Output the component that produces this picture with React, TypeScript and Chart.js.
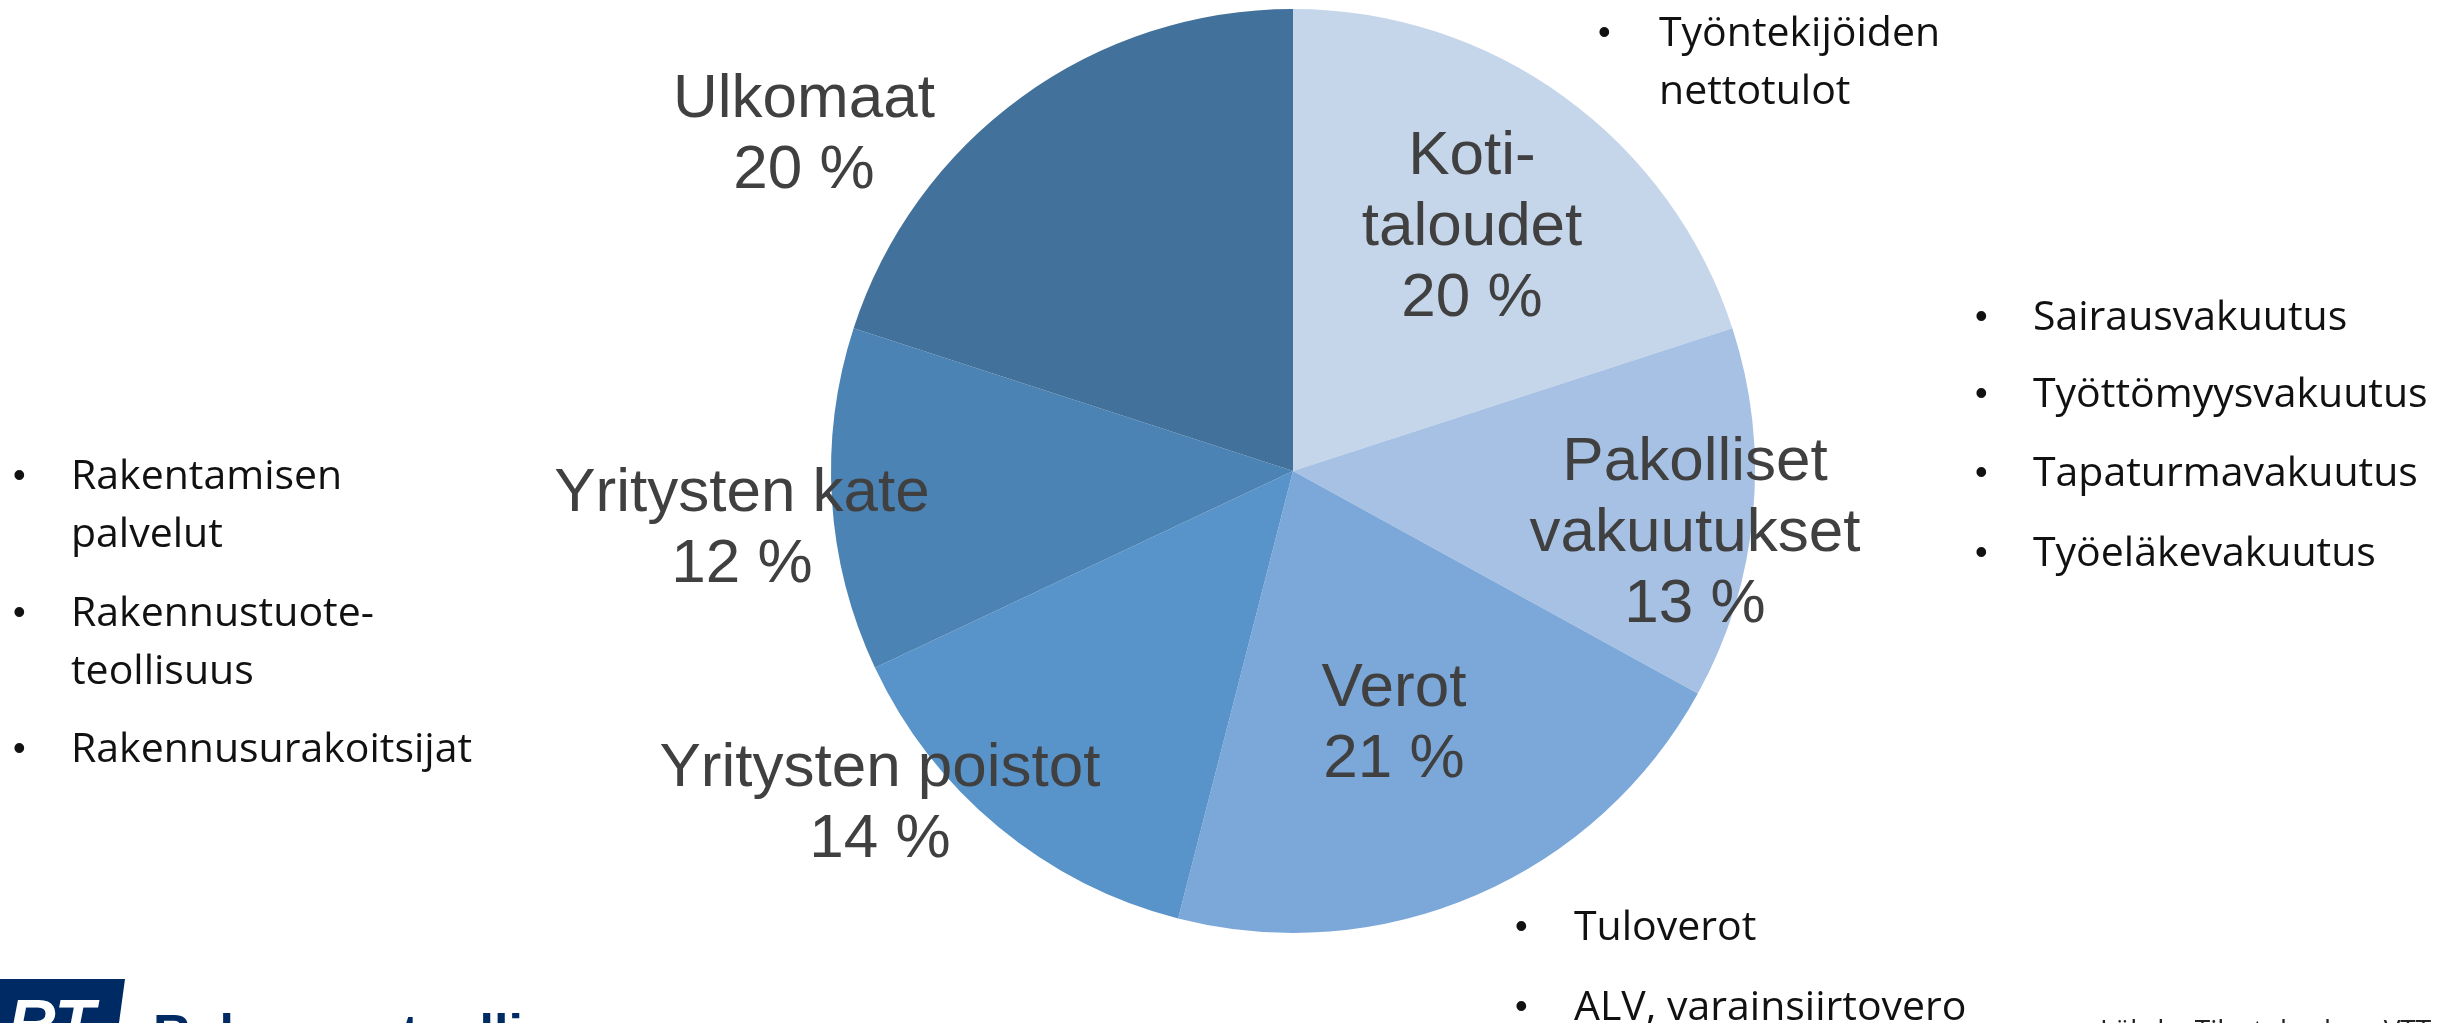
import React, { useEffect, useRef } from "react";
import { Chart, registerables } from "chart.js";

Chart.register(...registerables);

// ---- data ----
const categories = ["Kotitaloudet", "Pakolliset vakuutukset", "Verot", "Yritysten poistot", "Yritysten kate", "Ulkomaat"];
const shares = [20, 13, 21, 14, 12, 20];
const sliceColors = ["#C5D5EA", "#A6C1E3", "#7CA8D9", "#5894CA", "#4B83B4", "#42719B"];
const sliceLabelLines = [
  ["Koti-", "taloudet"],
  ["Pakolliset", "vakuutukset"],
  ["Verot"],
  ["Yritysten poistot"],
  ["Yritysten kate"],
  ["Ulkomaat"],
];
const bulletTop = ["Työntekijöiden\nnettotulot"];
const bulletRight = ["Sairausvakuutus", "Työttömyysvakuutus", "Tapaturmavakuutus", "Työeläkevakuutus"];
const bulletLeft = ["Rakentamisen\npalvelut", "Rakennustuote-\nteollisuus", "Rakennusurakoitsijat"];
const bulletBottom = ["Tuloverot", "ALV, varainsiirtovero"];
const sourceText = "Lähde: Tilastokeskus, VTT";
const logoText = "Rakennusteollisuus";

// ---- layout (positions of text blocks) ----
const W = 2461;
const H = 1023;
const labelPos = [
  { x: 1472, y: 157 },
  { x: 1695, y: 463 },
  { x: 1394, y: 689 },
  { x: 880, y: 769 },
  { x: 742, y: 494 },
  { x: 804, y: 100 },
];
const labelLineH = 71;
const bulletFont = "41px 'Open Sans', sans-serif";
const bulletWrapH = 58;

type Block = { items: string[]; bx: number; tx: number; ys: number[] };
const bulletBlocks: Block[] = [
  { items: bulletTop, bx: 1604, tx: 1659, ys: [34] },
  { items: bulletRight, bx: 1981, tx: 2033, ys: [318, 395, 474, 554] },
  { items: bulletLeft, bx: 19, tx: 71, ys: [477, 614, 750] },
  { items: bulletBottom, bx: 1521, tx: 1574, ys: [928, 1008] },
];

const textPlugin = {
  id: "texts",
  afterDraw(chart: any) {
    const ctx = chart.ctx as CanvasRenderingContext2D;
    ctx.save();
    // slice labels
    ctx.fillStyle = "#404040";
    ctx.font = "62px 'Liberation Sans', Arial, sans-serif";
    ctx.textAlign = "center";
    ctx.textBaseline = "middle";
    sliceLabelLines.forEach((lines, i) => {
      const all = [...lines, `${shares[i]} %`];
      all.forEach((ln, k) => {
        ctx.fillText(ln, labelPos[i].x, labelPos[i].y + k * labelLineH);
      });
    });
    // bullets
    ctx.fillStyle = "#111111";
    ctx.textAlign = "left";
    bulletBlocks.forEach((b) => {
      b.items.forEach((it, i) => {
        const y0 = b.ys[i];
        ctx.font = "36px 'Liberation Sans', Arial, sans-serif";
        ctx.fillText("•", b.bx - 6, y0);
        ctx.font = bulletFont;
        it.split("\n").forEach((ln, k) => {
          ctx.fillText(ln, b.tx, y0 + k * bulletWrapH);
        });
      });
    });
    // source
    ctx.textBaseline = "alphabetic";
    ctx.font = "28px 'Open Sans', sans-serif";
    ctx.fillStyle = "#222222";
    ctx.fillText(sourceText, 2100, 1040);
    // logo
    ctx.fillStyle = "#002A63";
    ctx.beginPath();
    ctx.moveTo(0, 979);
    ctx.lineTo(125, 979);
    ctx.lineTo(119, H);
    ctx.lineTo(0, H);
    ctx.closePath();
    ctx.fill();
    ctx.fillStyle = "#FFFFFF";
    ctx.font = "italic bold 66px 'Liberation Sans', Arial, sans-serif";
    ctx.fillText("RT", 8, 1046);
    ctx.fillStyle = "#002A63";
    ctx.font = "bold 52px 'Liberation Sans', Arial, sans-serif";
    ctx.fillText(logoText, 153, 1051);
    ctx.restore();
  },
};

export default function App() {
  const ref = useRef<HTMLCanvasElement | null>(null);
  useEffect(() => {
    document.body.style.margin = "0";
    const cx = 1293;
    const cy = 471;
    const r = 462;
    const chart = new Chart(ref.current as HTMLCanvasElement, {
      type: "pie",
      data: {
        labels: categories,
        datasets: [
          {
            data: shares,
            backgroundColor: sliceColors,
            borderWidth: 0,
            hoverOffset: 0,
            offset: 0,
          },
        ],
      },
      options: {
        responsive: false,
        animation: false,
        layout: {
          padding: { left: cx - r, right: W - (cx + r), top: cy - r, bottom: H - (cy + r) },
        },
        plugins: { legend: { display: false }, tooltip: { enabled: false } },
      },
      plugins: [textPlugin],
    });
    return () => chart.destroy();
  }, []);
  return (
    <div style={{ position: "absolute", left: 0, top: 0, width: W, height: H, overflow: "hidden", background: "#fff" }}>
      <canvas ref={ref} width={W} height={H} style={{ display: "block", width: W, height: H }} />
    </div>
  );
}
